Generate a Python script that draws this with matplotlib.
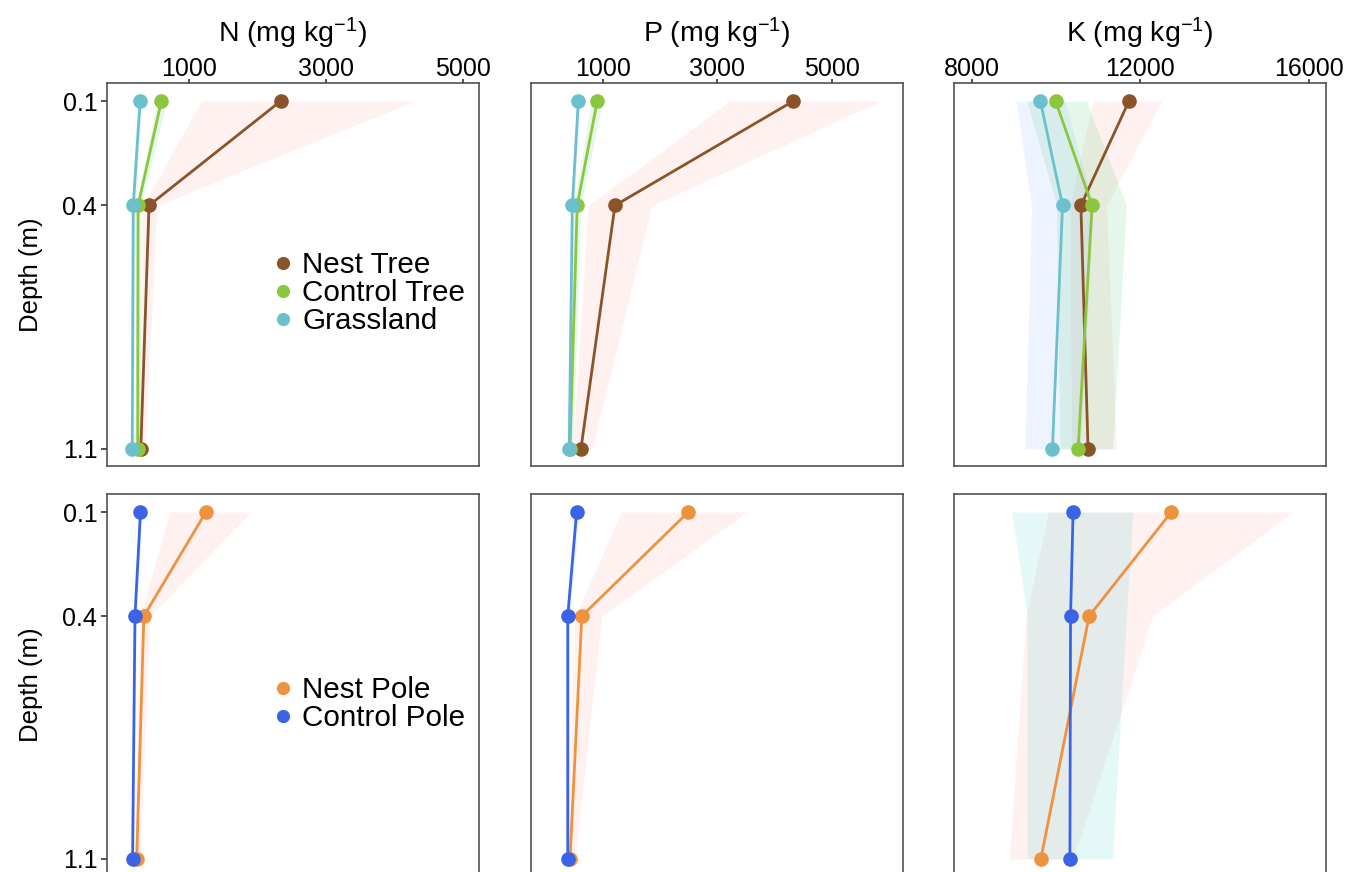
import matplotlib
matplotlib.use("Agg")
import matplotlib.pyplot as plt
from matplotlib.lines import Line2D

plt.rcParams['font.family'] = ['Liberation Sans', 'DejaVu Sans']
plt.rcParams['mathtext.fontset'] = 'custom'
plt.rcParams['mathtext.rm'] = 'Liberation Sans'
plt.rcParams['mathtext.it'] = 'Liberation Sans'

depth = [0.1, 0.4, 1.1]

# top row: trees + grassland
n_nest_tree = [2340, 420, 300]
n_nest_tree_lo = [1185, 330, 250]
n_nest_tree_hi = [4290, 540, 360]
n_ctrl_tree = [600, 260, 255]
n_ctrl_tree_lo = [540, 230, 220]
n_ctrl_tree_hi = [680, 300, 290]
n_grass = [290, 190, 175]
n_grass_lo = [250, 160, 150]
n_grass_hi = [320, 220, 200]

p_nest_tree = [4330, 1215, 620]
p_nest_tree_lo = [3220, 750, 480]
p_nest_tree_hi = [5850, 1860, 810]
p_ctrl_tree = [905, 555, 430]
p_ctrl_tree_lo = [800, 500, 380]
p_ctrl_tree_hi = [1000, 620, 480]
p_grass = [575, 470, 415]
p_grass_lo = [540, 440, 390]
p_grass_hi = [610, 500, 440]

k_nest_tree = [11730, 10590, 10760]
k_nest_tree_lo = [10880, 10330, 10370]
k_nest_tree_hi = [12500, 11200, 11430]
k_ctrl_tree = [9990, 10855, 10525]
k_ctrl_tree_lo = [9310, 10010, 10090]
k_ctrl_tree_hi = [10720, 11670, 11345]
k_grass = [9630, 10155, 9915]
k_grass_lo = [9050, 9420, 9260]
k_grass_hi = [10210, 10890, 10570]

# bottom row: poles
n_nest_pole = [1250, 345, 240]
n_nest_pole_lo = [725, 290, 200]
n_nest_pole_hi = [1910, 430, 290]
n_ctrl_pole = [295, 215, 180]
n_ctrl_pole_lo = [270, 195, 165]
n_ctrl_pole_hi = [320, 235, 195]

p_nest_pole = [2495, 635, 430]
p_nest_pole_lo = [1330, 515, 370]
p_nest_pole_hi = [3515, 985, 515]
p_ctrl_pole = [545, 390, 390]
p_ctrl_pole_lo = [500, 360, 360]
p_ctrl_pole_hi = [590, 420, 420]

k_nest_pole = [12735, 10785, 9640]
k_nest_pole_lo = [9815, 9290, 8890]
k_nest_pole_hi = [15615, 12290, 10405]
k_ctrl_pole = [10405, 10345, 10330]
k_ctrl_pole_lo = [8950, 9315, 9315]
k_ctrl_pole_hi = [11825, 11670, 11340]

titles = ['N (mg kg$^{-1}$)', 'P (mg kg$^{-1}$)', 'K (mg kg$^{-1}$)']
xticks = [[1000, 3000, 5000], [1000, 3000, 5000], [8000, 12000, 16000]]
xlims = [(-193, 5233), (-252, 6246), (7581, 16403)]

tree_names = ['Nest Tree', 'Control Tree', 'Grassland']
tree_colors = ['#8B5428', '#8CC63F', '#6CC0CD']
tree_fills = ['#F8766D', '#00BA38', '#619CFF']
pole_names = ['Nest Pole', 'Control Pole']
pole_colors = ['#EE9240', '#3A63E6']
pole_fills = ['#F8766D', '#00BFC4']

top_data = [
    [(n_nest_tree, n_nest_tree_lo, n_nest_tree_hi), (n_ctrl_tree, n_ctrl_tree_lo, n_ctrl_tree_hi), (n_grass, n_grass_lo, n_grass_hi)],
    [(p_nest_tree, p_nest_tree_lo, p_nest_tree_hi), (p_ctrl_tree, p_ctrl_tree_lo, p_ctrl_tree_hi), (p_grass, p_grass_lo, p_grass_hi)],
    [(k_nest_tree, k_nest_tree_lo, k_nest_tree_hi), (k_ctrl_tree, k_ctrl_tree_lo, k_ctrl_tree_hi), (k_grass, k_grass_lo, k_grass_hi)],
]
bot_data = [
    [(n_nest_pole, n_nest_pole_lo, n_nest_pole_hi), (n_ctrl_pole, n_ctrl_pole_lo, n_ctrl_pole_hi)],
    [(p_nest_pole, p_nest_pole_lo, p_nest_pole_hi), (p_ctrl_pole, p_ctrl_pole_lo, p_ctrl_pole_hi)],
    [(k_nest_pole, k_nest_pole_lo, k_nest_pole_hi), (k_ctrl_pole, k_ctrl_pole_lo, k_ctrl_pole_hi)],
]

fig = plt.figure(figsize=(13.6, 8.72), dpi=100)
W, H = 1360.0, 872.0
lefts = [107, 531, 954]
width = 372
rows = [(83, 466), (494, 876)]


def style(ax, col, top):
    ax.set_xlim(*xlims[col])
    ax.set_ylim(1.149, 0.048)
    ax.set_yticks(depth if col == 0 else [])
    ax.set_yticklabels(['0.1', '0.4', '1.1'] if col == 0 else [])
    ax.xaxis.set_ticks_position('top')
    ax.tick_params(axis='y', labelsize=18, length=4, width=1.2, color='#333333', pad=3)
    if top:
        ax.set_xticks(xticks[col])
        ax.set_xticklabels([str(t) for t in xticks[col]])
        ax.tick_params(axis='x', labelsize=18, length=3, width=1.2, color='#333333', pad=-1.5)
        ax.text(0.5, 1 + 41 / 383.0, titles[col], transform=ax.transAxes,
                ha='center', va='baseline', fontsize=20.5)
    else:
        ax.set_xticks([])
    for s in ax.spines.values():
        s.set_color('#444444')
        s.set_linewidth(1.1)
    if col == 0:
        ax.set_ylabel('Depth (m)', fontsize=18.5, labelpad=14)


for r, (y0, y1) in enumerate(rows):
    data = top_data if r == 0 else bot_data
    colors = tree_colors if r == 0 else pole_colors
    fills = tree_fills if r == 0 else pole_fills
    names = tree_names if r == 0 else pole_names
    for c in range(3):
        ax = fig.add_axes([lefts[c] / W, 1 - y1 / H, width / W, (y1 - y0) / H])
        for (mean, lo, hi), fc in zip(data[c], fills):
            ax.fill_betweenx(depth, lo, hi, color=fc, alpha=0.1, linewidth=0)
        for (mean, lo, hi), lc in zip(data[c], colors):
            ax.plot(mean, depth, color=lc, linewidth=2, marker='o', markersize=9.5)
        style(ax, c, r == 0)
        if c == 0:
            handles = [Line2D([], [], color=lc, marker='o', linestyle='none', markersize=8.5) for lc in colors]
            ax.legend(handles, names, loc='upper left',
                      bbox_to_anchor=((268 - lefts[0]) / width, (rows[r][1] - (251 if r == 0 else 676)) / (y1 - y0)),
                      frameon=False, fontsize=21.3, handletextpad=0.15, labelspacing=0.0,
                      handlelength=1.0, borderpad=0, borderaxespad=0)

fig.savefig('out.png', dpi=100)
